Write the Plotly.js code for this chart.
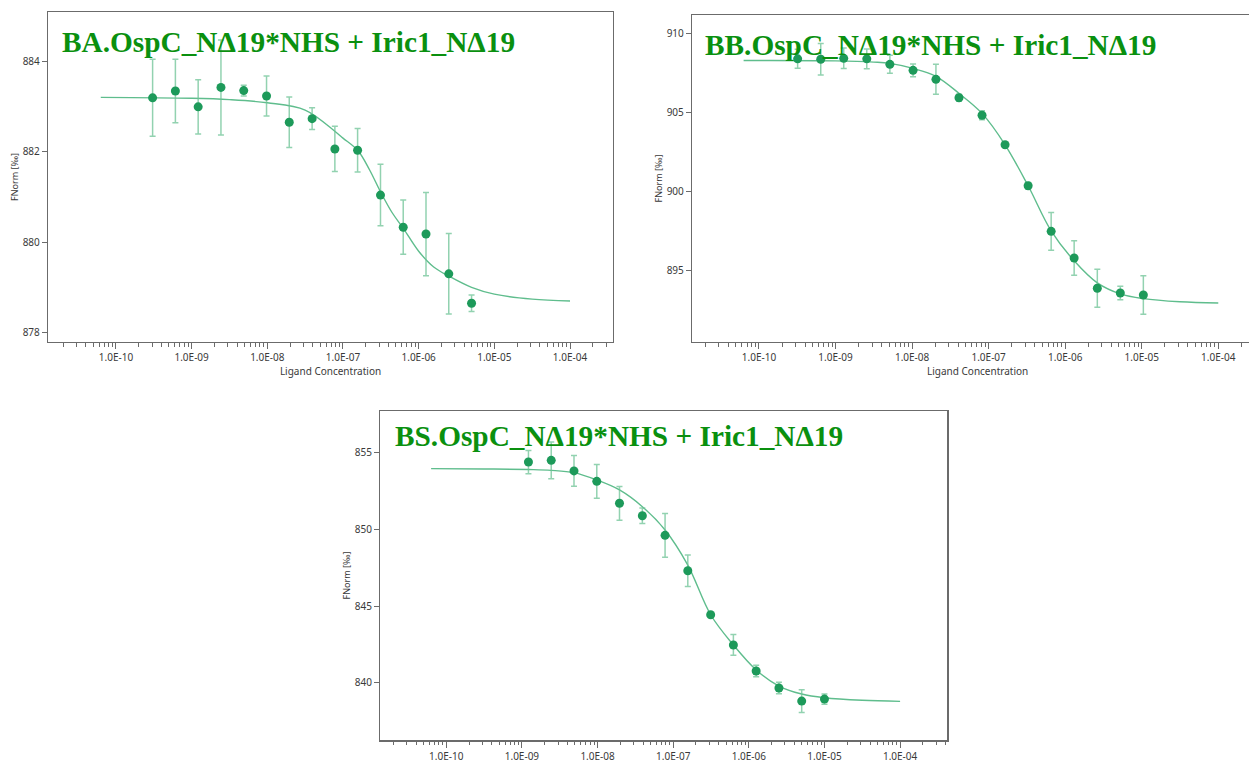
<!DOCTYPE html>
<html>
<head>
<meta charset="utf-8">
<script src="https://cdn.plot.ly/plotly-3.0.1.min.js"></script>
<style>
  html, body { margin: 0; padding: 0; background: #ffffff; overflow: hidden; }
  #chart { width: 1249px; height: 762px; }
</style>
</head>
<body>
<div id="chart"></div>
<script>
// ---- MST binding curves: three OspC variants titrated with Iric1 ----

// Panel BA
const concA = [3.05e-10, 6.1e-10, 1.22e-9, 2.44e-9, 4.88e-9, 9.77e-9, 1.95e-8, 3.91e-8,
               7.81e-8, 1.56e-7, 3.13e-7, 6.25e-7, 1.25e-6, 2.5e-6, 5e-6];
const fnormA = [883.19, 883.34, 882.99, 883.42, 883.35, 883.23, 882.65, 882.73,
                882.06, 882.03, 881.04, 880.33, 880.18, 879.30, 878.65];
const errA = [0.85, 0.70, 0.60, 1.05, 0.12, 0.44, 0.56, 0.24,
              0.50, 0.48, 0.68, 0.60, 0.92, 0.89, 0.18];
const fitConcA = [6.3e-11, 1e-9, 3.16e-9, 1e-8, 3.16e-8, 7.94e-8, 1e-7, 1.58e-7,
                  2.24e-7, 3.16e-7, 4.47e-7, 6.3e-7, 1e-6, 1.58e-6, 2.5e-6, 5e-6, 1e-5, 3.16e-5, 1e-4];
const fitA = [883.20, 883.18, 883.15, 883.08, 882.92, 882.44, 882.30, 882.02,
              881.60, 881.10, 880.65, 880.30, 879.80, 879.45, 879.25, 879.00, 878.85, 878.74, 878.70];

// Panel BB
const concB = [3.2e-10, 6.41e-10, 1.28e-9, 2.56e-9, 5.13e-9, 1.03e-8, 2.05e-8, 4.1e-8,
               8.2e-8, 1.64e-7, 3.28e-7, 6.56e-7, 1.31e-6, 2.63e-6, 5.25e-6, 1.05e-5];
const fnormB = [908.41, 908.38, 908.44, 908.41, 908.06, 907.68, 907.11, 905.94,
                904.83, 902.96, 900.36, 897.47, 895.78, 893.86, 893.56, 893.43];
const errB = [0.60, 1.00, 0.65, 0.63, 0.57, 0.40, 0.95, 0.22,
              0.28, 0.10, 0.20, 1.20, 1.10, 1.20, 0.43, 1.22];
const fitConcB = [6.3e-11, 1e-9, 3.16e-9, 5.13e-9, 1.03e-8, 2.05e-8, 4.1e-8, 8.2e-8,
                  1.64e-7, 3.28e-7, 6.56e-7, 1.31e-6, 2.63e-6, 5.25e-6, 1.05e-5, 3.16e-5, 1e-4];
const fitB = [908.30, 908.28, 908.20, 908.12, 907.80, 907.30, 906.22, 904.95,
              902.96, 900.36, 897.50, 895.60, 894.20, 893.50, 893.20, 893.00, 892.92];

// Panel BS
const concC = [1.22e-9, 2.44e-9, 4.88e-9, 9.77e-9, 1.95e-8, 3.91e-8, 7.81e-8, 1.56e-7,
               3.13e-7, 6.25e-7, 1.25e-6, 2.5e-6, 5e-6, 1e-5];
const fnormC = [854.39, 854.50, 853.81, 853.13, 851.70, 850.89, 849.61, 847.30,
                844.43, 842.46, 840.76, 839.65, 838.80, 838.93];
const errC = [0.76, 1.20, 1.00, 1.10, 1.10, 0.50, 1.43, 1.03,
              0.10, 0.68, 0.38, 0.37, 0.74, 0.33];
const fitConcC = [6.3e-11, 3.16e-10, 1.22e-9, 2.44e-9, 4.88e-9, 9.77e-9, 1.95e-8, 3.91e-8,
                  7.81e-8, 1.56e-7, 3.13e-7, 6.25e-7, 1.25e-6, 2.5e-6, 5e-6, 1e-5, 3.16e-5, 1e-4];
const fitC = [853.96, 853.94, 853.90, 853.85, 853.70, 853.22, 852.57, 851.48,
              849.96, 847.67, 844.43, 842.46, 840.83, 839.78, 839.26, 839.02, 838.85, 838.78];

// Axis labels
const decadeVals = [1e-10, 1e-9, 1e-8, 1e-7, 1e-6, 1e-5, 1e-4];
const decadeText = ['1.0E-10', '1.0E-09', '1.0E-08', '1.0E-07', '1.0E-06', '1.0E-05', '1.0E-04'];
const panelTitles = ['BA.OspC_NΔ19*NHS + Iric1_NΔ19',
                     'BB.OspC_NΔ19*NHS + Iric1_NΔ19',
                     'BS.OspC_NΔ19*NHS + Iric1_NΔ19'];
const xTitle = 'Ligand Concentration';
const yTitle = 'FNorm [‰]';

// ---- styling / geometry ----
const W = 1249, H = 762;
const px = v => v / W;
const py = v => 1 - v / H;

const COL_MARKER = '#1d9a5a';
const COL_ERR = 'rgba(110,195,150,0.75)';
const COL_FIT = '#5fbd8d';
const COL_TITLE = '#0a900f';
const AXIS_COL = '#6b6b6b';
const TEXT_COL = '#3a3a3a';
const FONT = 'Noto Sans, Open Sans, sans-serif';

// minor log ticks 2..9 within each decade
const minorVals = [];
for (let e = -12; e <= -3; e++) {
  for (let k = 2; k <= 9; k++) minorVals.push(k * Math.pow(10, e));
}

function xAxis(domain, range, withTitle, anchor) {
  const ax = {
    type: 'log', domain: domain, range: range, anchor: anchor,
    showline: true, mirror: true, linecolor: AXIS_COL, linewidth: 1.5,
    showgrid: false, zeroline: false,
    tickmode: 'array', tickvals: decadeVals, ticktext: decadeText,
    ticks: 'outside', ticklen: 6, tickwidth: 1, tickcolor: AXIS_COL,
    tickfont: { family: FONT, size: 10, color: TEXT_COL },
    minor: { tickmode: 'array', tickvals: minorVals, ticks: 'outside', ticklen: 3.5,
             tickwidth: 1, tickcolor: AXIS_COL, showgrid: false },
    fixedrange: true
  };
  if (withTitle) {
    ax.title = { text: xTitle, standoff: 3, font: { family: FONT, size: 10, color: TEXT_COL } };
  }
  return ax;
}

function yAxis(domain, range, tickvals, anchor, mirror) {
  return {
    domain: domain, range: range, anchor: anchor,
    showline: true, mirror: mirror, linecolor: AXIS_COL, linewidth: 1.5,
    showgrid: false, zeroline: false,
    tickmode: 'array', tickvals: tickvals,
    ticks: 'outside', ticklen: 5, tickwidth: 1, tickcolor: AXIS_COL,
    tickfont: { family: FONT, size: 10, color: TEXT_COL },
    title: { text: yTitle, standoff: 2, font: { family: FONT, size: 9, color: TEXT_COL } },
    fixedrange: true
  };
}

function panelTraces(conc, vals, errs, fitX, fitY, xa, ya) {
  return [
    {
      x: fitX, y: fitY, xaxis: xa, yaxis: ya, type: 'scatter', mode: 'lines',
      line: { color: COL_FIT, width: 1.4, shape: 'spline', smoothing: 1 },
      hoverinfo: 'skip', showlegend: false
    },
    {
      x: conc, y: vals, xaxis: xa, yaxis: ya, type: 'scatter', mode: 'markers',
      marker: { color: COL_MARKER, size: 9 },
      error_y: { type: 'data', array: errs, visible: true, color: COL_ERR, thickness: 1.5, width: 3 },
      showlegend: false
    }
  ];
}

const data = [
  ...panelTraces(concA, fnormA, errA, fitConcA, fitA, 'x', 'y'),
  ...panelTraces(concB, fnormB, errB, fitConcB, fitB, 'x2', 'y2'),
  ...panelTraces(concC, fnormC, errC, fitConcC, fitC, 'x3', 'y3')
];

function titleNote(text, xLeft, yMid) {
  return {
    text: '<b>' + text + '</b>', xref: 'paper', yref: 'paper',
    x: px(xLeft), y: py(yMid), xanchor: 'left', yanchor: 'middle',
    showarrow: false, borderpad: 0,
    font: { family: 'Liberation Serif, Times New Roman, serif', size: 29.3, color: COL_TITLE }
  };
}

// The right-hand panel runs past the page edge, so its frame stops at the border
// and its x-axis title is centred on the full (clipped) panel width.
const rightPanelLeft = 692.3, rightPanelRight = 1261.8;
const rightPanelEnd = -10.871 + (W - rightPanelLeft) / 76.55;

const layout = {
  width: W, height: H,
  margin: { l: 0, r: 0, t: 0, b: 0 },
  paper_bgcolor: '#ffffff', plot_bgcolor: '#ffffff',
  showlegend: false,
  xaxis:  xAxis([px(48.3), px(612.7)], [-10.894, -3.436], true, 'y'),
  yaxis:  yAxis([py(341.7), py(12.3)], [877.80, 885.08], [878, 880, 882, 884], 'x', true),
  xaxis2: xAxis([px(rightPanelLeft), 1], [-10.871, rightPanelEnd], false, 'y2'),
  yaxis2: yAxis([py(341.7), py(15.3)], [890.47, 911.17], [895, 900, 905, 910], 'x2', false),
  xaxis3: xAxis([px(380.4), px(947.0)], [-10.871, -3.38], false, 'y3'),
  yaxis3: yAxis([py(740), py(411)], [836.26, 857.72], [840, 845, 850, 855], 'x3', true),
  annotations: [
    titleNote(panelTitles[0], 61, 42.5),
    titleNote(panelTitles[1], 704, 44.5),
    titleNote(panelTitles[2], 393.5, 436),
    {
      text: xTitle, xref: 'paper', yref: 'paper',
      x: px((rightPanelLeft + rightPanelRight) / 2), y: py(371.5),
      xanchor: 'center', yanchor: 'middle', showarrow: false,
      font: { family: FONT, size: 10, color: TEXT_COL }
    }
  ]
};

Plotly.newPlot('chart', data, layout, { displayModeBar: false, staticPlot: true });
</script>
</body>
</html>
